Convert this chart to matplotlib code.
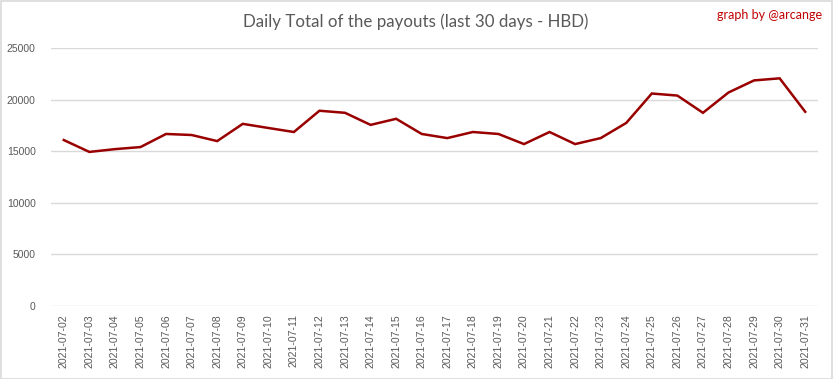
import matplotlib
matplotlib.use("Agg")
import matplotlib.pyplot as plt
from matplotlib.patches import Rectangle

dates = ["2021-07-%02d" % d for d in range(2, 32)]
payouts = [16080, 14930, 15200, 15400, 16670, 16570, 15980, 17650, 17250, 16860,
           18920, 18720, 17550, 18140, 16670, 16270, 16860, 16670, 15690, 16860,
           15690, 16270, 17740, 20590, 20390, 18720, 20690, 21860, 22060, 18820]
yticks = [0, 5000, 10000, 15000, 20000, 25000]
title = "Daily Total of the payouts (last 30 days - HBD)"
credit = "graph by @arcange"

fig = plt.figure(figsize=(8.33, 3.79), dpi=100)
ax = fig.add_axes([51/833, 1 - 306/379, (818-51)/833, (306-48)/379])

x = list(range(len(dates)))
ax.plot(x, payouts, color="#990000", linewidth=1.8, solid_joinstyle="miter")
ax.set_xlim(-0.5, len(dates) - 0.5)
ax.set_ylim(0, 25000)
ax.set_yticks(yticks)
ax.set_yticklabels([str(v) for v in yticks], fontsize=7.5, color="#595959",
                   family="Liberation Sans")
ax.set_xticks(x)
ax.set_xticklabels(dates, rotation=90, fontsize=7.6, color="#595959",
                   family="Liberation Sans")
ax.tick_params(axis="both", length=0)
ax.tick_params(axis="y", pad=11)
ax.tick_params(axis="x", pad=6)
ax.grid(axis="y", color="#D9D9D9", linewidth=1)
ax.set_axisbelow(True)
for s in ax.spines.values():
    s.set_visible(False)

fig.text(416/833, 1 - 22/379, title, ha="center", va="center", fontsize=12.2,
         color="#595959", family="Lato")
fig.text(822/833, 1 - 15/379, credit, ha="right", va="center", fontsize=9,
         color="#C00000", family="Lato")
fig.patches.append(Rectangle((0.5/833, 0.5/379), 1 - 1.5/833, 1 - 1.5/379,
                             transform=fig.transFigure, fill=False,
                             edgecolor="#D9D9D9", linewidth=1.2))
fig.savefig("out.png", dpi=100)
